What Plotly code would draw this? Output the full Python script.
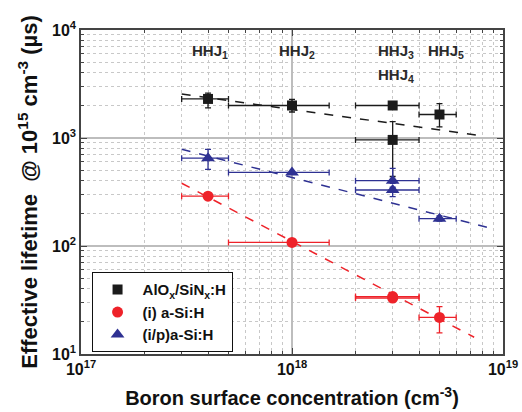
import math
import plotly.graph_objects as go

# Boron surface concentration (cm^-3) and effective lifetime (us) per passivation stack
alo_x = [4e17, 1e18, 3e18, 3e18, 5e18]
alo_y = [2300, 2000, 2000, 960, 1650]
alo_x_lo = [3e17, 5e17, 2e18, 2e18, 4e18]
alo_x_hi = [5e17, 1.5e18, 4e18, 4e18, 6e18]
alo_y_lo = [1900, 1740, 2000, 440, 1270]
alo_y_hi = [2600, 2280, 2000, 1420, 2080]

asi_x = [4e17, 1e18, 3e18, 3e18, 5e18]
asi_y = [289, 108, 34, 33, 21.8]
asi_x_lo = [3e17, 5e17, 2e18, 2e18, 4e18]
asi_x_hi = [5e17, 1.5e18, 4e18, 4e18, 6e18]
asi_y_lo = [275, 104, 32.5, 31.5, 15.7]
asi_y_hi = [305, 112, 35.5, 34.5, 27.4]

ip_x = [4e17, 1e18, 3e18, 3e18, 5e18]
ip_y = [650, 480, 403, 330, 179]
ip_x_lo = [3e17, 5e17, 2e18, 2e18, 4e18]
ip_x_hi = [5e17, 1.5e18, 4e18, 4e18, 6e18]
ip_y_lo = [513, 470, 380, 286, 170]
ip_y_hi = [785, 490, 524, 350, 190]

# Trend lines (dashed)
alo_fit_x = [3e17, 8e18]
alo_fit_y = [2550, 1045]
ip_fit_x = [3e17, 8.4e18]
ip_fit_y = [786, 149]
asi_fit_x = [3e17, 7.3e18]
asi_fit_y = [381, 14.3]

# Sample labels
hhj_labels = ["HHJ<sub>1</sub>", "HHJ<sub>2</sub>", "HHJ<sub>3</sub>", "HHJ<sub>4</sub>", "HHJ<sub>5</sub>"]
hhj_x = [3.3e17, 8.5e17, 2.5e18, 2.5e18, 4.3e18]
hhj_y = [6300, 6300, 6300, 3830, 6300]

BLACK = "#1b1b1b"
RED = "#ee2229"
BLUE = "#2e3192"
FONT = "Liberation Sans, Arial, sans-serif"


def errs(v, lo, hi):
    return dict(type="data", symmetric=False,
                array=[h - c for c, h in zip(v, hi)],
                arrayminus=[c - l for c, l in zip(v, lo)])


fig = go.Figure()

for fx, fy, col in [(alo_fit_x, alo_fit_y, BLACK), (ip_fit_x, ip_fit_y, BLUE), (asi_fit_x, asi_fit_y, RED)]:
    fig.add_trace(go.Scatter(x=fx, y=fy, mode="lines", showlegend=False, hoverinfo="skip",
                             line=dict(color=col, width=1.5, dash="dash")))

series = [
    ("AlO<sub>x</sub>/SiN<sub>x</sub>:H", alo_x, alo_y, alo_x_lo, alo_x_hi, alo_y_lo, alo_y_hi, BLACK, "square", 10),
    ("(i) a-Si:H", asi_x, asi_y, asi_x_lo, asi_x_hi, asi_y_lo, asi_y_hi, RED, "circle", 11),
    ("(i/p)a-Si:H", ip_x, ip_y, ip_x_lo, ip_x_hi, ip_y_lo, ip_y_hi, BLUE, "triangle-up", 12),
]
for name, x, y, xl, xh, yl, yh, col, sym, sz in series:
    ex = errs(x, xl, xh)
    ey = errs(y, yl, yh)
    ex.update(color=col, thickness=1.3, width=3)
    ey.update(color=col, thickness=1.3, width=3)
    fig.add_trace(go.Scatter(x=x, y=y, mode="markers", name=name,
                             marker=dict(symbol=sym, size=sz, color=col),
                             error_x=ex, error_y=ey))

# Annotation positions on log axes are given as log10 values
for t, x, y in zip(hhj_labels, hhj_x, hhj_y):
    fig.add_annotation(x=math.log10(x), y=math.log10(y), xref="x", yref="y", text=t, showarrow=False,
                       xanchor="left", yanchor="middle",
                       font=dict(family=FONT, size=15, color="#2a2a2a", weight="bold"))

minor_x = [m * 10 ** e for e in (17, 18) for m in range(2, 10)]
minor_y = [m * 10 ** e for e in (1, 2, 3) for m in range(2, 10)]

axis_common = dict(type="log", showline=True, linecolor="#444", linewidth=1.5, mirror="ticks",
                   ticks="inside", ticklen=6, tickcolor="#444",
                   showgrid=True, gridcolor="#bdbdbd", gridwidth=1.5,
                   zeroline=False, automargin=False,
                   tickfont=dict(family=FONT, size=16, color="#111", weight="bold"))

fig.update_xaxes(range=[17, 19], tickvals=[1e17, 1e18, 1e19],
                 ticktext=["10<sup>17</sup>", "10<sup>18</sup>", "10<sup>19</sup>"],
                 minor=dict(tickvals=minor_x, ticks="inside", ticklen=3, tickcolor="#444",
                            showgrid=True, gridcolor="#c8c8c8", griddash="dot", gridwidth=1),
                 title=dict(text="Boron surface concentration (cm<sup>-3</sup>)", standoff=14,
                            font=dict(family=FONT, size=20, color="#111", weight="bold")),
                 **axis_common)
fig.update_yaxes(range=[1, 4], tickvals=[1e1, 1e2, 1e3, 1e4],
                 ticktext=["10<sup>1</sup>", "10<sup>2</sup>", "10<sup>3</sup>", "10<sup>4</sup>"],
                 minor=dict(tickvals=minor_y, ticks="inside", ticklen=3, tickcolor="#444",
                            showgrid=True, gridcolor="#c8c8c8", griddash="dot", gridwidth=1),
                 title=dict(text="Effective lifetime  @ 10<sup>15</sup> cm<sup>-3</sup> (µs)", standoff=8,
                            font=dict(family=FONT, size=22, color="#111", weight="bold")),
                 **axis_common)

fig.update_layout(
    width=522, height=412,
    margin=dict(l=81, r=19, t=30, b=58),
    paper_bgcolor="white", plot_bgcolor="white",
    font=dict(family=FONT, color="#111"),
    showlegend=True,
    legend=dict(x=0.025, y=0.252, xanchor="left", yanchor="top",
                bgcolor="white", bordercolor="#111", borderwidth=1,
                font=dict(family=FONT, size=15, color="#111", weight="bold"),
                itemwidth=40, tracegroupgap=0),
)

fig.write_html("out.html")
